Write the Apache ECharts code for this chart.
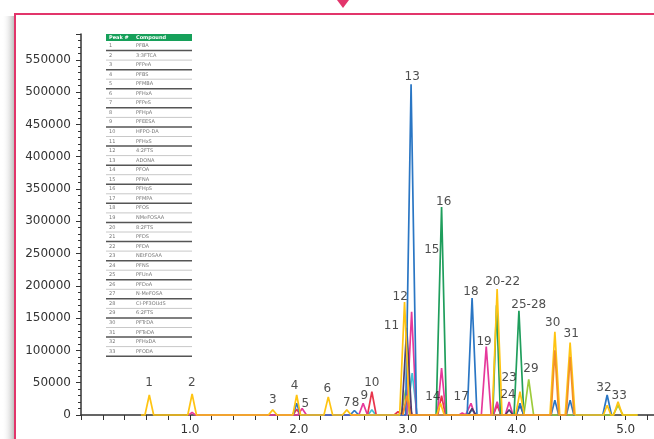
<!DOCTYPE html>
<html><head><meta charset="utf-8">
<script src="https://cdn.jsdelivr.net/npm/echarts@6/dist/echarts.min.js"></script>
<style>html,body{margin:0;padding:0;background:#fff}#c{width:654px;height:439px}</style>
</head><body><div id="c"></div>
<script>
// ---- data ----
const yellowTrace = [[0.55,0],[0.587,0],[0.627,31000],[0.667,0],[0.98,0],[1.02,32500],[1.06,0],[1.72,0],[1.76,8000],[1.80,0],[1.945,0],[1.98,31000],[2.015,0],[2.23,0],[2.27,28000],[2.31,0],[2.40,0],[2.44,8000],[2.48,0],[2.925,0],[2.97,175000],[3.015,0],[3.265,0],[3.30,18000],[3.335,0],[3.775,0],[3.82,195000],[3.865,0],[3.99,0],[4.03,36000],[4.07,0],[4.305,0],[4.35,129000],[4.395,0],[4.445,0],[4.49,112000],[4.535,0],[4.795,0],[4.83,15000],[4.865,0],[4.89,0],[4.93,20600],[4.97,0],[5.11,0]];
const orangeTrace = [[2.955,0],[2.99,30000],[3.025,0],[4.315,0],[4.35,100000],[4.385,0],[4.455,0],[4.49,90000],[4.525,0]];
const blueTrace = [[1.945,0],[1.98,18000],[2.015,0],[2.47,0],[2.51,7000],[2.55,0],[2.98,0],[3.03,512000],[3.08,0],[3.545,0],[3.59,181000],[3.635,0],[3.995,0],[4.03,18000],[4.065,0],[4.315,0],[4.35,23000],[4.385,0],[4.455,0],[4.49,23000],[4.525,0],[4.79,0],[4.83,31000],[4.87,0]];
const greenTrace = [[3.26,0],[3.31,322000],[3.355,0],[3.78,0],[3.815,170000],[3.85,0],[3.975,0],[4.02,161500],[4.065,0]];
const lightGreenTrace = [[2.94,0],[2.98,38700],[3.02,0],[4.065,0],[4.11,55000],[4.155,0],[4.885,0],[4.93,15000],[4.975,0],[5.11,0]];
const pinkTrace = [[0.99,0],[1.02,4000],[1.05,0],[1.99,0],[2.03,10000],[2.07,0],[2.55,0],[2.59,18000],[2.63,0],[2.99,0],[3.035,160000],[3.08,0],[3.27,0],[3.31,72800],[3.35,0],[3.47,0],[3.50,3000],[3.53,0],[3.545,0],[3.58,18000],[3.615,0],[3.675,0],[3.72,105800],[3.765,0],[3.785,0],[3.82,20600],[3.855,0],[3.895,0],[3.93,20000],[3.965,0]];
const redTrace = [[1.945,0],[1.98,9000],[2.015,0],[2.63,0],[2.67,36000],[2.71,0],[2.875,0],[2.91,5000],[2.945,0],[2.96,0],[3.0,25000],[3.04,0],[3.275,0],[3.31,30000],[3.345,0],[3.785,0],[3.82,15000],[3.855,0]];
const cyanTrace = [[2.635,0],[2.67,8000],[2.705,0],[2.995,0],[3.04,65000],[3.085,0],[3.555,0],[3.59,8000],[3.625,0]];
const purpleTrace = [[2.945,0],[2.99,135000],[3.035,0],[3.555,0],[3.59,10000],[3.625,0],[3.895,0],[3.93,8000],[3.965,0],[3.995,0],[4.03,15000],[4.065,0]];

const peakLabels = ['1','2','3','4','5','6','7','8','9','10','11','12','13','14','15','16','17','18','19','20-22','23','24','25-28','29','30','31','32','33'];
const peakLabelX = [0.624,1.018,1.76,1.96,2.06,2.26,2.44,2.52,2.60,2.67,2.85,2.93,3.04,3.23,3.22,3.33,3.49,3.58,3.70,3.87,3.93,3.92,4.11,4.13,4.33,4.50,4.80,4.94];
const peakLabelY = [49600,49600,23200,45000,17000,40300,18600,18600,29400,49600,137900,182800,523600,27900,255600,329900,27900,190500,113100,206000,57300,31500,170400,71300,142500,125500,41800,29400];

const tableHeader = ['Peak #','Compound'];
const tableNums = ['1','2','3','4','5','6','7','8','9','10','11','12','13','14','15','16','17','18','19','20','21','22','23','24','25','26','27','28','29','30','31','32','33'];
const tableNames = ['PFBA','3:3FTCA','PFPeA','PFBS','PFMBA','PFHxA','PFPeS','PFHpA','PFEESA','HFPO-DA','PFHxS','4:2FTS','ADONA','PFOA','PFNA','PFHpS','PFMPA','PFOS','NMeFOSAA','8:2FTS','PFDS','PFDA','NEtFOSAA','PFNS','PFUnA','PFDoA','N-MeFOSA','Cl-PF3OUdS','6:2FTS','PFTrDA','PFTeDA','PFHxDA','PFODA'];

const yTicks = [0,50000,100000,150000,200000,250000,300000,350000,400000,450000,500000,550000];
const xTickLabels = ['1.0','2.0','3.0','4.0','5.0'];

// ---- chart ----
const chart = echarts.init(document.getElementById('c'), null, {renderer:'canvas'});
const FONT = 'DejaVu Sans';
function line(data, color, z) {
  return {type:'line', data:data, showSymbol:false, symbol:'none', smooth:false,
    lineStyle:{color:color, width:1.7}, itemStyle:{color:color}, z:z, animation:false, clip:false};
}
const labelData = peakLabels.map((t,i)=>({name:t, value:[peakLabelX[i], peakLabelY[i]]}));

// table graphics
const tg = [];
const tx = 106, ty = 34, tw = 86, hh = 7, rh = 9.55;
tg.push({type:'rect', shape:{x:tx, y:ty, width:tw, height:hh}, style:{fill:'#16a05a'}});
tg.push({type:'text', x:tx+3, y:ty+hh/2, style:{text:tableHeader[0], fill:'#fff', font:'bold 5px '+FONT, textVerticalAlign:'middle'}});
tg.push({type:'text', x:tx+30, y:ty+hh/2, style:{text:tableHeader[1], fill:'#fff', font:'bold 5px '+FONT, textVerticalAlign:'middle'}});
tableNums.forEach((n,i)=>{
  const y0 = ty+hh+i*rh;
  tg.push({type:'text', x:tx+3, y:y0+rh/2, style:{text:n, fill:'#777', font:'5px '+FONT, textVerticalAlign:'middle'}});
  tg.push({type:'text', x:tx+30, y:y0+rh/2, style:{text:tableNames[i], fill:'#777', font:'5px '+FONT, textVerticalAlign:'middle'}});
  const dark = (i%2===0);
  tg.push({type:'line', shape:{x1:tx, y1:y0+rh, x2:tx+tw, y2:y0+rh}, style:{stroke: dark?'#555':'#c8c8c8', lineWidth: dark?1.5:1}});
});

const option = {
  animation:false,
  backgroundColor:'#fff',
  grid:{left:81, right:0, top:34, bottom:24},
  xAxis:{type:'value', min:0, max:5.26, interval:0.2,
    axisLine:{lineStyle:{color:'#333', width:1.5}},
    axisTick:{show:true, length:5, lineStyle:{color:'#333'}},
    splitLine:{show:false},
    axisLabel:{color:'#333', fontFamily:FONT, fontSize:12, margin:9, showMaxLabel:false,
      formatter:function(v){ const r=Math.round(v); if(Math.abs(v-r)<1e-6 && r>=1){ return xTickLabels[r-1]||''; } return ''; }}
  },
  yAxis:{type:'value', min:0, max:590000, interval:50000,
    axisLine:{show:true, lineStyle:{color:'#333', width:1.5}},
    axisTick:{show:true, length:5, lineStyle:{color:'#333'}},
    minorTick:{show:true, splitNumber:5, length:3, lineStyle:{color:'#333'}},
    splitLine:{show:false},
    axisLabel:{color:'#333', fontFamily:FONT, fontSize:12, margin:10, showMaxLabel:false,
      formatter:function(v){ return yTicks.indexOf(v)>=0 ? String(v) : ''; }}
  },
  series:[
    line(lightGreenTrace,'#9dcb3b',2),
    line(cyanTrace,'#3ec3d6',3),
    line(redTrace,'#e8364c',4),
    line(pinkTrace,'#e6399b',5),
    line(purpleTrace,'#4e3c6c',6),
    line(greenTrace,'#1f9e5c',7),
    line(blueTrace,'#2a76c4',8),
    line(yellowTrace,'#ffc412',9),
    line(orangeTrace,'#f29028',10),
    {type:'scatter', data:labelData, symbolSize:0, z:20, animation:false, clip:false,
     label:{show:true, position:'inside', formatter:'{b}', color:'#222', fontFamily:FONT, fontSize:12}}
  ],
  graphic:[
    {type:'rect', z:-10, shape:{x:2, y:16, width:13, height:430},
     style:{fill:new echarts.graphic.LinearGradient(0,0,1,0,[{offset:0,color:'rgba(255,255,255,0)'},{offset:1,color:'rgba(120,120,120,0.55)'}])}},
    {type:'rect', z:-5, shape:{x:15, y:14, width:680, height:460}, style:{fill:'#fff', stroke:'#e2356b', lineWidth:2}},
    {type:'polygon', shape:{points:[[337,0],[349,0],[343,8]]}, style:{fill:'#e2356b'}},
    {type:'group', children:tg, z:30}
  ]
};
chart.setOption(option);
</script></body></html>
